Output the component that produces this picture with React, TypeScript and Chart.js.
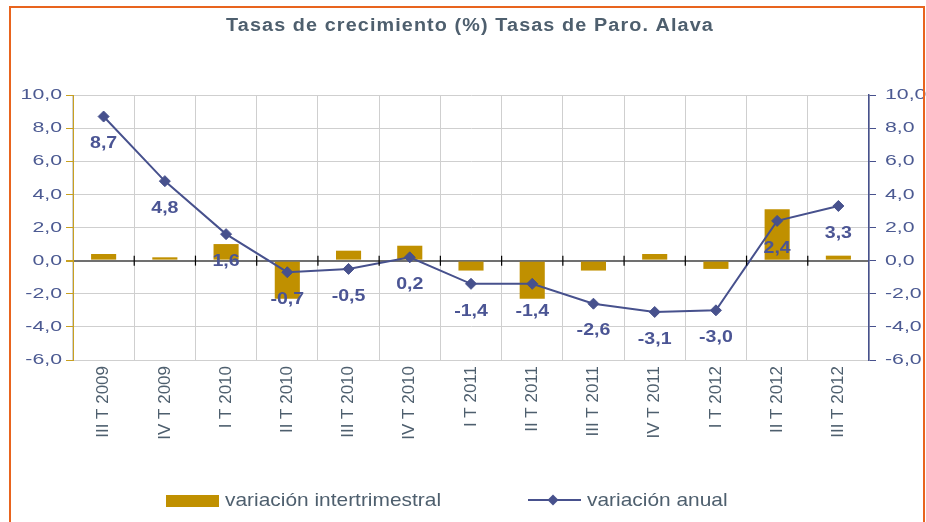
import React, { useEffect, useRef } from "react";
import { Chart, registerables } from "chart.js";

Chart.register(...registerables);

const titleText = "Tasas de crecimiento (%) Tasas de Paro. Alava";
const categories = [
  "III T 2009", "IV T 2009", "I T 2010", "II T 2010", "III T 2010", "IV T 2010",
  "I T 2011", "II T 2011", "III T 2011", "IV T 2011", "I T 2012", "II T 2012", "III T 2012",
];
const intertrimestral = [0.4, 0.2, 1.0, -2.3, 0.6, 0.9, -0.6, -2.3, -0.6, 0.4, -0.5, 3.1, 0.3];
const anual = [8.7, 4.8, 1.6, -0.7, -0.5, 0.2, -1.4, -1.4, -2.6, -3.1, -3.0, 2.4, 3.3];
const legendLabels = ["variación intertrimestral", "variación anual"];
const yMin = -6;
const yMax = 10;
const yStep = 2;

const GOLD = "#C09000";
const NAVY = "#47518D";
const LABEL_NAVY = "#4B5594";
const TICK_NAVY = "#4C5A92";
const SLATE = "#4E5F6E";
const FONT = '"Liberation Sans", Arial, sans-serif';

const fmt = (v: number) => v.toFixed(1).replace(".", ",");

function drawText(
  ctx: CanvasRenderingContext2D,
  text: string,
  x: number,
  y: number,
  o: { font: string; color: string; align: CanvasTextAlign; baseline: CanvasTextBaseline; sx?: number; spacing?: number; rot?: number }
) {
  ctx.save();
  ctx.translate(x, y);
  if (o.rot) ctx.rotate(o.rot);
  ctx.scale(o.sx ?? 1, 1);
  ctx.font = o.font;
  ctx.fillStyle = o.color;
  ctx.textAlign = o.align;
  ctx.textBaseline = o.baseline;
  if (o.spacing && "letterSpacing" in ctx) (ctx as any).letterSpacing = o.spacing + "px";
  ctx.fillText(text, 0, 0);
  ctx.restore();
}

const textPlugin = {
  id: "customText",
  afterDatasetsDraw(chart: any) {
    const ctx: CanvasRenderingContext2D = chart.ctx;
    const xs = chart.scales.x;
    const yl = chart.scales.y;
    const yr = chart.scales.y2;
    const area = chart.chartArea;

    // zero-line tick marks
    const zy = yl.getPixelForValue(0);
    ctx.save();
    ctx.strokeStyle = "#000";
    ctx.lineWidth = 1.2;
    for (let i = 1; i < categories.length; i++) {
      const bx = (xs.getPixelForValue(i - 1) + xs.getPixelForValue(i)) / 2;
      ctx.beginPath();
      ctx.moveTo(bx, zy - 5);
      ctx.lineTo(bx, zy + 5);
      ctx.stroke();
    }
    ctx.restore();

    // title
    drawText(ctx, titleText, 470, 31, {
      font: `bold 18px ${FONT}`, color: SLATE, align: "center", baseline: "alphabetic", sx: 1.1, spacing: 1,
    });

    // y tick labels
    for (let v = yMin; v <= yMax; v += yStep) {
      drawText(ctx, fmt(v), area.left - 11, yl.getPixelForValue(v), {
        font: `15px ${FONT}`, color: TICK_NAVY, align: "right", baseline: "middle", sx: 1.42,
      });
      drawText(ctx, fmt(v), area.right + 16, yr.getPixelForValue(v), {
        font: `15px ${FONT}`, color: TICK_NAVY, align: "left", baseline: "middle", sx: 1.42,
      });
    }

    // category labels (rotated)
    categories.forEach((c, i) => {
      drawText(ctx, c, xs.getPixelForValue(i), area.bottom + 6, {
        font: `17px ${FONT}`, color: SLATE, align: "right", baseline: "middle", rot: -Math.PI / 2,
      });
    });

    // data labels
    const meta = chart.getDatasetMeta(1);
    meta.data.forEach((pt: any, i: number) => {
      drawText(ctx, fmt(anual[i]), pt.x, pt.y + 27, {
        font: `bold 17px ${FONT}`, color: LABEL_NAVY, align: "center", baseline: "middle", sx: 1.15,
      });
    });

    // legend
    ctx.save();
    ctx.fillStyle = GOLD;
    ctx.fillRect(166, 495, 53, 12);
    ctx.strokeStyle = NAVY;
    ctx.lineWidth = 2;
    ctx.beginPath();
    ctx.moveTo(528, 500);
    ctx.lineTo(581, 500);
    ctx.stroke();
    ctx.fillStyle = NAVY;
    ctx.beginPath();
    ctx.moveTo(553, 494.5);
    ctx.lineTo(558.5, 500);
    ctx.lineTo(553, 505.5);
    ctx.lineTo(547.5, 500);
    ctx.closePath();
    ctx.fill();
    ctx.restore();
    drawText(ctx, legendLabels[0], 225, 506, {
      font: `19px ${FONT}`, color: SLATE, align: "left", baseline: "alphabetic", sx: 1.1,
    });
    drawText(ctx, legendLabels[1], 587, 506, {
      font: `19px ${FONT}`, color: SLATE, align: "left", baseline: "alphabetic", sx: 1.1,
    });
  },
};

export default function App() {
  const ref = useRef<HTMLCanvasElement | null>(null);

  useEffect(() => {
    if (!ref.current) return;
    const chart = new Chart(ref.current, {
      type: "bar",
      data: {
        labels: categories,
        datasets: [
          {
            type: "bar",
            label: legendLabels[0],
            data: intertrimestral,
            backgroundColor: GOLD,
            borderWidth: 0,
            barPercentage: 0.41,
            categoryPercentage: 1,
            yAxisID: "y",
            order: 2,
          },
          {
            type: "line",
            label: legendLabels[1],
            data: anual,
            borderColor: NAVY,
            backgroundColor: NAVY,
            borderWidth: 2,
            pointStyle: "rectRot",
            pointRadius: 5.5,
            pointBackgroundColor: NAVY,
            pointBorderColor: NAVY,
            pointBorderWidth: 1,
            tension: 0,
            yAxisID: "y2",
            order: 1,
          },
        ],
      },
      options: {
        responsive: false,
        devicePixelRatio: 1,
        animation: false,
        layout: { padding: { top: 95, left: 0, right: 0, bottom: 0 } },
        plugins: { legend: { display: false }, title: { display: false }, tooltip: { enabled: false } },
        scales: {
          x: {
            offset: true,
            grid: { offset: true, color: "#CFCFCF", lineWidth: 1, drawTicks: false },
            border: { display: false },
            ticks: { display: false },
            afterFit: (s: any) => { s.height = 162; },
          },
          y: {
            position: "left",
            min: yMin,
            max: yMax,
            ticks: { display: false, stepSize: yStep },
            grid: {
              color: (c: any) => (c.tick && c.tick.value === 0 ? "#707070" : "#CFCFCF"),
              lineWidth: (c: any) => (c.tick && c.tick.value === 0 ? 2 : 1),
              tickColor: "#C8A020",
              tickLength: 7,
            },
            border: { color: "#C8A020", width: 1 },
            afterFit: (s: any) => { s.width = 73; },
          },
          y2: {
            position: "right",
            min: yMin,
            max: yMax,
            ticks: { display: false, stepSize: yStep },
            grid: { drawOnChartArea: false, tickColor: NAVY, tickLength: 7 },
            border: { color: NAVY, width: 1.5 },
            afterFit: (s: any) => { s.width = 57; },
          },
        },
      },
      plugins: [textPlugin],
    });
    return () => chart.destroy();
  }, []);

  return (
    <div style={{ position: "fixed", left: 0, top: 0, width: 926, height: 522, background: "#fff", overflow: "hidden" }}>
      <canvas ref={ref} width={926} height={522} style={{ position: "absolute", left: 0, top: 0, width: 926, height: 522 }} />
      <div
        style={{
          position: "absolute",
          left: 9,
          top: 6,
          width: 916,
          height: 600,
          border: "2px solid #E8641E",
          boxSizing: "border-box",
          pointerEvents: "none",
        }}
      />
    </div>
  );
}
